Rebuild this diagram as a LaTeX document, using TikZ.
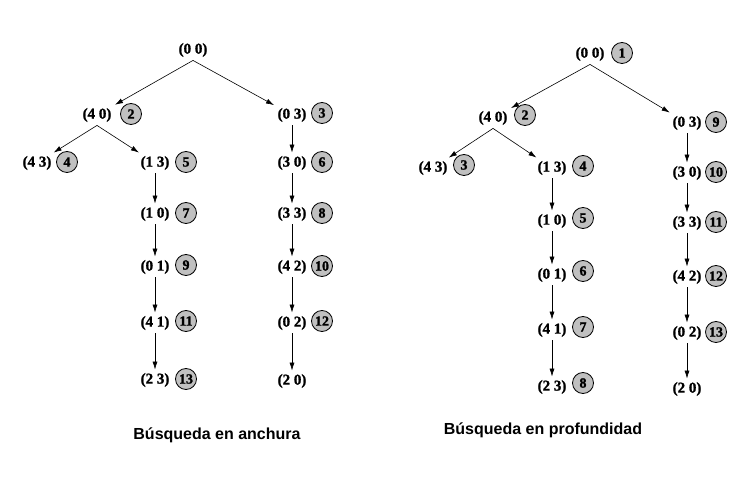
\documentclass[tikz,border=0pt]{standalone}
\usepackage{fontspec}
\setmainfont{Liberation Serif}[BoldFont={Liberation Serif Bold}]
\newfontfamily\titlefont{Liberation Sans}[BoldFont={Liberation Sans Bold}]
\newfontfamily\statefontface{Liberation Serif Bold}[FakeBold=1.4]
\usetikzlibrary{arrows.meta}
\definecolor{badgegray}{RGB}{192,192,192}
\tikzset{
  state/.style={font=\statefontface\fontsize{15}{17}\selectfont},
  badge/.style={circle, draw, line width=0.8pt, fill=badgegray, inner sep=0pt, minimum size=21pt,
    font=\statefontface\fontsize{14}{16}\selectfont},
  caption/.style={font=\titlefont\bfseries\fontsize{16}{18}\selectfont},
}
\begin{document}
\begin{tikzpicture}[x=1pt,y=-1pt,>={Latex[length=8pt,width=5pt]},line width=0.6pt]
\useasboundingbox (0,0) rectangle (734,478);
% breadth-first tree
\node[state] (a00) at (193,50) {(0 0)};
\node[state] (a40) at (97,115) {(4 0)};
\node[badge] (an2) at (131,114) {2};
\node[state] (a03) at (292,115) {(0 3)};
\node[badge] (an3) at (322,113) {3};
\node[state] (a43) at (37,163) {(4 3)};
\node[badge] (an4) at (67,162) {4};
\node[state] (a13) at (155,163) {(1 3)};
\node[badge] (an5) at (186,162) {5};
\node[state] (a30) at (292,163) {(3 0)};
\node[badge] (an6) at (322,162) {6};
\node[state] (a10) at (155,214) {(1 0)};
\node[badge] (an7) at (186,213) {7};
\node[state] (a33) at (292,214) {(3 3)};
\node[badge] (an8) at (322,213) {8};
\node[state] (a01) at (155,267) {(0 1)};
\node[badge] (an9) at (186,265) {9};
\node[state] (a42) at (292,267) {(4 2)};
\node[badge] (an10) at (322,266) {10};
\node[state] (a41) at (155,323) {(4 1)};
\node[badge] (an11) at (186,321) {11};
\node[state] (a02) at (292,323) {(0 2)};
\node[badge] (an12) at (322,321) {12};
\node[state] (a23) at (155,380) {(2 3)};
\node[badge] (an13) at (186,379) {13};
\node[state] (a20) at (292,381) {(2 0)};
\draw[->] (a00.south) -- (a40);
\draw[->] (a00.south) -- (a03);
\draw[->] (a40.south) -- (a43);
\draw[->] (a40.south) -- (a13);
\draw[->] (a13) -- (a10);
\draw[->] (a10) -- (a01);
\draw[->] (a01) -- (a41);
\draw[->] (a41) -- (a23);
\draw[->] (a03) -- (a30);
\draw[->] (a30) -- (a33);
\draw[->] (a33) -- (a42);
\draw[->] (a42) -- (a02);
\draw[->] (a02) -- (a20);
\node[caption] (acap) at (217,435) {Búsqueda en anchura};
% depth-first tree
\node[state] (p00) at (590,54) {(0 0)};
\node[badge] (pn1) at (622,53) {1};
\node[state] (p40) at (493,118) {(4 0)};
\node[badge] (pn2) at (525,115) {2};
\node[state] (p03) at (687,123) {(0 3)};
\node[badge] (pn9) at (716,122) {9};
\node[state] (p43) at (433,168) {(4 3)};
\node[badge] (pn3) at (464,165) {3};
\node[state] (p13) at (552,168) {(1 3)};
\node[badge] (pn4) at (583,166) {4};
\node[state] (p30) at (687,173) {(3 0)};
\node[badge] (pn10) at (716,172) {10};
\node[state] (p10) at (552,221) {(1 0)};
\node[badge] (pn5) at (583,218) {5};
\node[state] (p33) at (687,223) {(3 3)};
\node[badge] (pn11) at (716,222) {11};
\node[state] (p01) at (552,275) {(0 1)};
\node[badge] (pn6) at (583,271) {6};
\node[state] (p42) at (687,277) {(4 2)};
\node[badge] (pn12) at (716,276) {12};
\node[state] (p41) at (552,330) {(4 1)};
\node[badge] (pn7) at (583,327) {7};
\node[state] (p02) at (687,333) {(0 2)};
\node[badge] (pn13) at (716,332) {13};
\node[state] (p23) at (552,387) {(2 3)};
\node[badge] (pn8) at (583,383) {8};
\node[state] (p20) at (687,389) {(2 0)};
\draw[->] (p00.south) -- (p40);
\draw[->] (p00.south) -- (p03);
\draw[->] (p40.south) -- (p43);
\draw[->] (p40.south) -- (p13);
\draw[->] (p13) -- (p10);
\draw[->] (p10) -- (p01);
\draw[->] (p01) -- (p41);
\draw[->] (p41) -- (p23);
\draw[->] (p03) -- (p30);
\draw[->] (p30) -- (p33);
\draw[->] (p33) -- (p42);
\draw[->] (p42) -- (p02);
\draw[->] (p02) -- (p20);
\node[caption] (pcap) at (543,430) {Búsqueda en profundidad};
\end{tikzpicture}
\end{document}
